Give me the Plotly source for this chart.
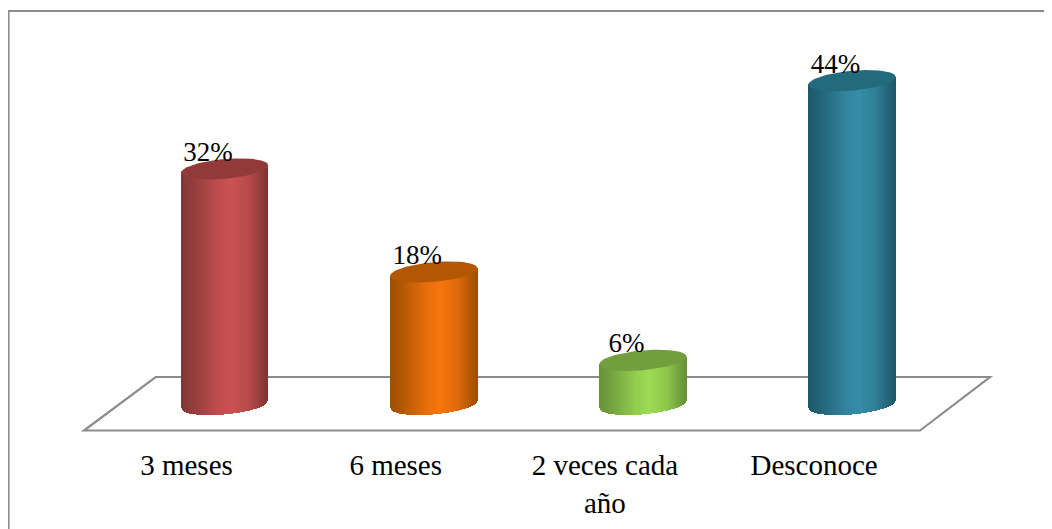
import numpy as np
import plotly.graph_objects as go

categories = ["3 meses", "6 meses", "2 veces cada<br>año", "Desconoce"]
values = [32, 18, 6, 44]
value_labels = ["32%", "18%", "6%", "44%"]

mid_colors = [(203, 82, 82), (246, 118, 12), (157, 220, 85), (54, 142, 168)]
edge_colors = [(130, 54, 52), (160, 78, 2), (104, 146, 56), (30, 88, 106)]
cap_colors = ["#923a39", "#b35705", "#729e3d", "#246a7d"]
LINE = "#8c8c8c"

PAGE = 8                      # the page's own margin round the figure
W, H, BOTTOM = 1052 - PAGE, 529 - PAGE, 97
PLOT_H = H - BOTTOM
X0, XSTEP = 224.5 - PAGE, 209.2      # pixel of first column, pixels per category
Y0, YSCALE = 404.5 - PAGE, 7.36      # pixel of value 0, pixels per percent
A = 43.6 / XSTEP              # half width of a column in x units
TILT, B = 3.8 / YSCALE, 9.9 / YSCALE
LABEL_SHIFT = 38 / XSTEP
VALUE_SHIFT = 16.5 / XSTEP

xr = [(0 - X0) / XSTEP, (W - X0) / XSTEP]
yr = [(Y0 - PLOT_H) / YSCALE, Y0 / YSCALE]


def shade(t):
    return np.interp(t, [0, 0.15, 0.42, 0.58, 0.78, 0.92, 1], [0.0, 0.25, 0.8, 1.0, 0.72, 0.25, 0.0])


fig = go.Figure()
positions = list(range(len(categories)))
N = 88
c = np.linspace(-1, 1, N)
inset = 0.985
slice_w = 2.05 * A * inset / (N - 1)
for p, v, mid, edge, cap in zip(positions, values, mid_colors, edge_colors, cap_colors):
    xs = p + c * A * inset
    base = TILT * c - B * np.sqrt(np.clip(1 - c ** 2, 0, 1))
    top = v + TILT * c
    cols = []
    for t in (c + 1) / 2:
        f = shade(t)
        rgb = [round(e + (m - e) * f) for e, m in zip(edge, mid)]
        cols.append(f"rgb({rgb[0]},{rgb[1]},{rgb[2]})")
    fig.add_trace(go.Bar(x=xs, y=top - base, base=base, width=slice_w,
                         marker=dict(color=cols, line=dict(width=0)),
                         hoverinfo="skip", showlegend=False))
    th = np.linspace(0, 2 * np.pi, 90)
    fig.add_trace(go.Scatter(x=p + A * np.cos(th),
                             y=v + TILT * np.cos(th) + B * np.sin(th),
                             mode="lines", fill="toself", fillcolor=cap,
                             line=dict(width=0, color=cap),
                             hoverinfo="skip", showlegend=False))

fig.add_trace(go.Scatter(x=[p - VALUE_SHIFT for p in positions],
                         y=[v + 2.0 for v in values],
                         text=value_labels, mode="text", textposition="middle center",
                         textfont=dict(family="Liberation Serif", size=27, color="#000000"),
                         hoverinfo="skip", showlegend=False))


def px(x):
    return (x - PAGE) / W


def py(y):
    return (PLOT_H - (y - PAGE)) / PLOT_H


floor = f"M {px(84)} {py(430.5)} L {px(920)} {py(430.5)} L {px(990)} {py(377)} L {px(155.7)} {py(377)} Z"
border = f"M {px(8.5)} {py(529)} L {px(8.5)} {py(11)} L {px(1052)} {py(11)}"
shapes = [
    dict(type="path", xref="paper", yref="paper", path=floor, line=dict(color=LINE, width=2.2), layer="below"),
    dict(type="path", xref="paper", yref="paper", path=border, line=dict(color=LINE, width=2.2), layer="below"),
]

fig.update_layout(
    width=W, height=H, autosize=False,
    margin=dict(l=0, r=0, t=0, b=BOTTOM, pad=0),
    paper_bgcolor="white", plot_bgcolor="rgba(0,0,0,0)",
    barmode="overlay", bargap=0, shapes=shapes,
    xaxis=dict(range=xr, tickmode="array",
               tickvals=[p - LABEL_SHIFT for p in positions], ticktext=categories,
               ticks="", showgrid=False, zeroline=False, showline=False, ticklabelstandoff=13,
               tickangle=0, tickfont=dict(family="Liberation Serif", size=29, color="#000000")),
    yaxis=dict(range=yr, visible=False, showgrid=False, zeroline=False),
)
fig.write_html("out.html", config=dict(displayModeBar=False))
